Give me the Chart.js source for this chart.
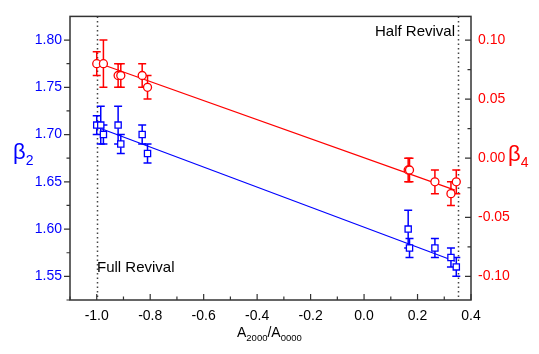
<!DOCTYPE html>
<html><head><meta charset="utf-8">
<script src="https://cdn.jsdelivr.net/npm/chart.js@4.4.0/dist/chart.umd.min.js"></script>
<style>html,body{margin:0;padding:0;background:#fff}#wrap{width:539px;height:354px}</style>
</head><body><div id="wrap"><canvas id="c" width="539" height="354"></canvas></div>
<script>
// ---- data ----
const beta2X   = [-1.0, -0.985, -0.975, -0.92, -0.91, -0.83, -0.81, 0.165, 0.17, 0.265, 0.325, 0.345];
const beta2Y   = [1.71, 1.71, 1.70, 1.71, 1.69, 1.70, 1.68, 1.60, 1.58, 1.58, 1.57, 1.56];
const beta2Err = [0.01, 0.02, 0.01, 0.02, 0.01, 0.01, 0.01, 0.02, 0.01, 0.01, 0.01, 0.01];
const beta4X   = [-1.0, -0.975, -0.92, -0.91, -0.83, -0.81, 0.165, 0.17, 0.265, 0.325, 0.345];
const beta4Y   = [0.08, 0.08, 0.07, 0.07, 0.07, 0.06, -0.01, -0.01, -0.02, -0.03, -0.02];
const beta4Err = [0.01, 0.02, 0.01, 0.01, 0.01, 0.01, 0.01, 0.01, 0.01, 0.01, 0.01];
const fit2X = [-1.0, 0.34];
const fit2Y = [1.708, 1.566];
const fit4X = [-1.0, 0.34];
const fit4Y = [0.081, -0.027];
const revivalX = [-1.0, 0.35];
const xTicks  = [-1.0, -0.8, -0.6, -0.4, -0.2, 0.0, 0.2, 0.4];
const yTicks  = [1.55, 1.60, 1.65, 1.70, 1.75, 1.80];
const y2Ticks = [-0.10, -0.05, 0.00, 0.05, 0.10];
const xMinor  = [-1.1, -0.9, -0.7, -0.5, -0.3, -0.1, 0.1, 0.3];
const yMinor  = [1.525, 1.575, 1.625, 1.675, 1.725, 1.775];
const y2Minor = [-0.075, -0.025, 0.025, 0.075];

const BLUE = '#0000ff', RED = '#ff0000', AX = '#333333';
const FONT = '"Liberation Sans", Arial, sans-serif';

const pts = (xs, ys) => xs.map((x, i) => ({x: x, y: ys[i]}));

const extras = {
  id: 'extras',
  beforeDatasetsDraw(chart) {
    const {ctx, chartArea: a, scales} = chart;
    const xs = scales.x;
    ctx.save();
    // dotted revival lines
    ctx.strokeStyle = '#444'; ctx.lineWidth = 1.5; ctx.setLineDash([1.5, 3]);
    revivalX.forEach(v => {
      const px = Math.round(xs.getPixelForValue(v)) + 0.5;
      ctx.beginPath(); ctx.moveTo(px, a.top); ctx.lineTo(px, a.bottom); ctx.stroke();
    });
    ctx.setLineDash([]);
    // error bars
    const bars = (X, Y, E, ys, col) => {
      ctx.strokeStyle = col; ctx.lineWidth = 1.5;
      X.forEach((x, i) => {
        const px = xs.getPixelForValue(x);
        const t = ys.getPixelForValue(Y[i] + E[i]);
        const b = ys.getPixelForValue(Y[i] - E[i]);
        ctx.beginPath();
        ctx.moveTo(px, t); ctx.lineTo(px, b);
        ctx.moveTo(px - 4, t); ctx.lineTo(px + 4, t);
        ctx.moveTo(px - 4, b); ctx.lineTo(px + 4, b);
        ctx.stroke();
      });
    };
    bars(beta2X, beta2Y, beta2Err, scales.y, BLUE);
    bars(beta4X, beta4Y, beta4Err, scales.y2, RED);
    ctx.restore();
  },
  afterDraw(chart) {
    const {ctx, chartArea: a, scales} = chart;
    ctx.save();
    // frame
    ctx.strokeStyle = AX; ctx.lineWidth = 1.5;
    ctx.strokeRect(a.left, a.top, a.right - a.left, a.bottom - a.top);
    ctx.lineWidth = 1.2;
    ctx.beginPath();
    // x ticks (inside)
    xTicks.forEach(v => { const p = scales.x.getPixelForValue(v); ctx.moveTo(p, a.bottom); ctx.lineTo(p, a.bottom - 6); });
    xMinor.forEach(v => { const p = scales.x.getPixelForValue(v); ctx.moveTo(p, a.bottom); ctx.lineTo(p, a.bottom - 3.5); });
    // left ticks (outside)
    yTicks.forEach(v => { const p = scales.y.getPixelForValue(v); ctx.moveTo(a.left, p); ctx.lineTo(a.left - 6, p); });
    yMinor.forEach(v => { const p = scales.y.getPixelForValue(v); ctx.moveTo(a.left, p); ctx.lineTo(a.left - 3.5, p); });
    // right ticks (inside)
    y2Ticks.forEach(v => { const p = scales.y2.getPixelForValue(v); ctx.moveTo(a.right, p); ctx.lineTo(a.right - 6, p); });
    y2Minor.forEach(v => { const p = scales.y2.getPixelForValue(v); ctx.moveTo(a.right, p); ctx.lineTo(a.right - 3.5, p); });
    ctx.stroke();
    // annotations
    ctx.fillStyle = '#000'; ctx.font = '15px ' + FONT; ctx.textBaseline = 'middle';
    ctx.textAlign = 'right'; ctx.fillText('Half Revival', 455, 32);
    ctx.textAlign = 'left'; ctx.fillText('Full Revival', 97, 268);
    // y titles
    const subTitle = (main, sub, x, y, col) => {
      ctx.fillStyle = col; ctx.textAlign = 'left'; ctx.textBaseline = 'alphabetic';
      ctx.font = '22px ' + FONT; ctx.fillText(main, x, y);
      const w = ctx.measureText(main).width;
      ctx.font = '14px ' + FONT; ctx.fillText(sub, x + w, y + 6);
    };
    subTitle('\u03B2', '2', 13, 159, BLUE);
    subTitle('\u03B2', '4', 508, 161, RED);
    // x title
    ctx.fillStyle = '#000'; ctx.textBaseline = 'alphabetic'; ctx.textAlign = 'left';
    let x = 237;
    const seg = (t, f, dy) => { ctx.font = f + 'px ' + FONT; ctx.fillText(t, x, 337 + dy); x += ctx.measureText(t).width; };
    seg('A', 14, 0); seg('2000', 9.5, 4); seg('/A', 14, 0); seg('0000', 9.5, 4);
    ctx.restore();
  }
};

new Chart(document.getElementById('c'), {
  data: {
    datasets: [
      {type: 'scatter', label: 'beta2', data: pts(beta2X, beta2Y), yAxisID: 'y', pointStyle: 'rect',
       pointRadius: 4.4, pointBorderWidth: 1.3, borderColor: BLUE, pointBorderColor: BLUE, pointBackgroundColor: '#fff'},
      {type: 'scatter', label: 'beta4', data: pts(beta4X, beta4Y), yAxisID: 'y2', pointStyle: 'circle',
       pointRadius: 4, pointBorderWidth: 1.3, borderColor: RED, pointBorderColor: RED, pointBackgroundColor: '#fff'},
      {type: 'line', label: 'fit2', data: pts(fit2X, fit2Y), yAxisID: 'y', borderColor: BLUE, borderWidth: 1.2, pointRadius: 0, fill: false},
      {type: 'line', label: 'fit4', data: pts(fit4X, fit4Y), yAxisID: 'y2', borderColor: RED, borderWidth: 1.2, pointRadius: 0, fill: false}
    ]
  },
  options: {
    responsive: false, animation: false, devicePixelRatio: 1,
    layout: {padding: {top: 5, left: 0, right: 0, bottom: 0}},
    plugins: {legend: {display: false}, tooltip: {enabled: false}},
    scales: {
      x: {type: 'linear', min: -1.1, max: 0.4,
          afterBuildTicks: s => { s.ticks = xTicks.map(v => ({value: v})); },
          afterFit: s => { s.height = 54; },
          grid: {display: false, drawTicks: false}, border: {display: false},
          ticks: {color: '#000', font: {family: FONT, size: 14}, padding: 8, autoSkip: false, maxRotation: 0,
                  callback: v => Number(v).toFixed(1)}},
      y: {type: 'linear', position: 'left', min: 1.525, max: 1.825,
          afterBuildTicks: s => { s.ticks = yTicks.map(v => ({value: v})); },
          afterFit: s => { s.width = 70; },
          grid: {display: false, drawTicks: false}, border: {display: false},
          ticks: {color: BLUE, font: {family: FONT, size: 14}, padding: 8, autoSkip: false,
                  callback: v => Number(v).toFixed(2)}},
      y2: {type: 'linear', position: 'right', min: -0.12, max: 0.12,
          afterBuildTicks: s => { s.ticks = y2Ticks.map(v => ({value: v})); },
          afterFit: s => { s.width = 68; },
          grid: {display: false, drawTicks: false}, border: {display: false},
          ticks: {color: RED, font: {family: FONT, size: 14}, padding: 7, autoSkip: false,
                  callback: v => Number(v).toFixed(2)}}
    }
  },
  plugins: [extras]
});
</script></body></html>
